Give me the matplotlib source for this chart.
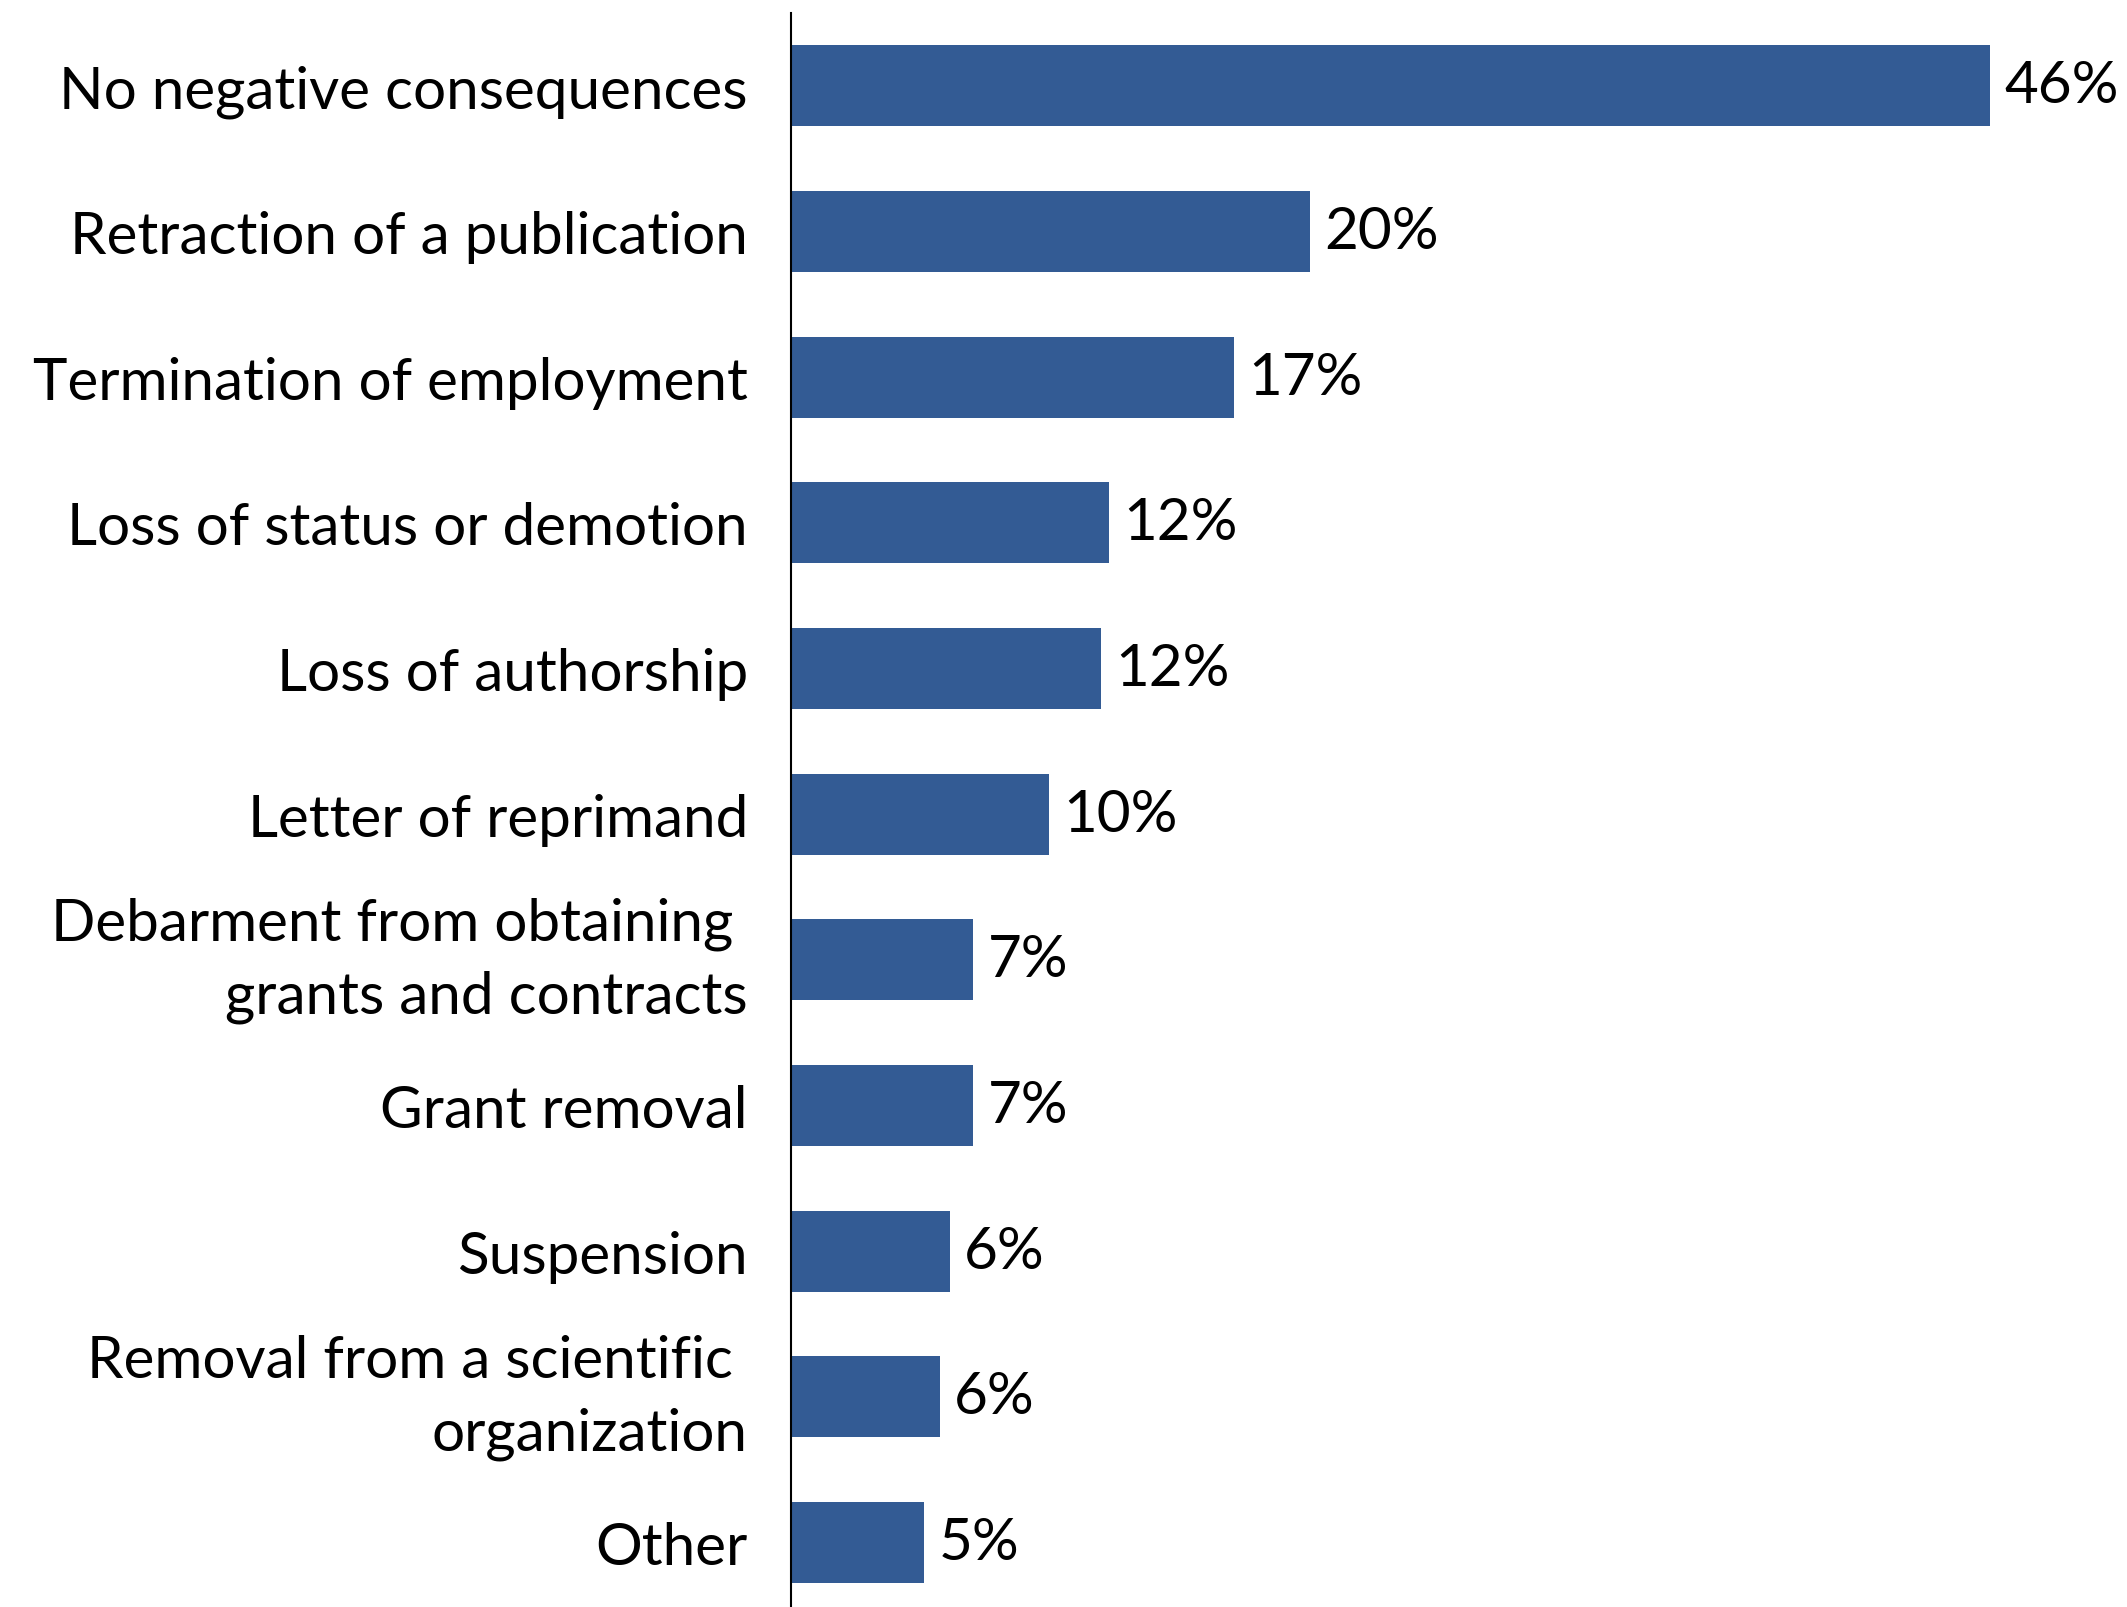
import matplotlib
matplotlib.use("Agg")
import matplotlib.pyplot as plt

plt.rcParams["font.family"] = ["Lato", "DejaVu Sans"]

# consequences reported, top to bottom
categories = [
    "No negative consequences",
    "Retraction of a publication",
    "Termination of employment",
    "Loss of status or demotion",
    "Loss of authorship",
    "Letter of reprimand",
    "Debarment from obtaining \ngrants and contracts",
    "Grant removal",
    "Suspension",
    "Removal from a scientific \norganization",
    "Other",
]
shares = [46.0, 19.9, 17.0, 12.2, 11.9, 9.9, 7.0, 7.0, 6.1, 5.7, 5.1]

bar_color = "#335B94"
fs = 42

fig = plt.figure(figsize=(21.27, 16.08), dpi=100)
ax = fig.add_axes([791 / 2127, 0, 1 - 791 / 2127, 1 - 14 / 1608])

y = range(len(categories))
ax.barh(y, shares, height=0.556, color=bar_color)

for yi, v in zip(y, shares):
    ax.text(v + 0.55, yi, f"{v:.0f}%", va="center", ha="left", fontsize=fs)

ax.set_yticks(list(y))
ax.set_yticklabels(categories, fontsize=fs, linespacing=1.45)
# two-line labels sit centred on their bars
for lbl in ax.get_yticklabels():
    if "\n" in lbl.get_text():
        lbl.set_verticalalignment("center")
ax.tick_params(axis="y", length=0, pad=31)
ax.set_xticks([])
ax.set_xlim(0, 51.25)
ax.set_ylim(10.443, -0.5)

for side in ["top", "right", "bottom"]:
    ax.spines[side].set_visible(False)
ax.spines["left"].set_linewidth(1.5)
ax.spines["left"].set_color("black")

fig.savefig("out.png", dpi=100)
